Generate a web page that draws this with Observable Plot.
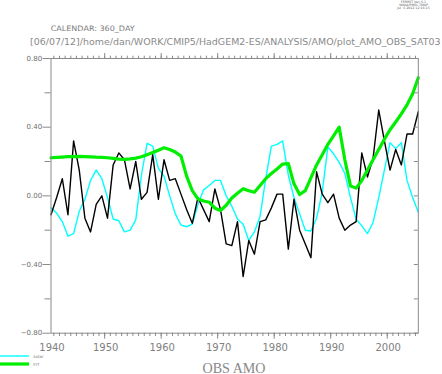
<!DOCTYPE html>
<html><head><meta charset="utf-8">
<script src="https://cdn.jsdelivr.net/npm/d3@7"></script>
<script src="https://cdn.jsdelivr.net/npm/@observablehq/plot@0.6"></script>
<style>html,body{margin:0;padding:0;background:#fff;} #chart svg{display:block}</style>
</head><body><div id="chart"></div>
<script>
// ---- data (annual values, plotted at mid-year) ----
const years = d3.range(1940, 2006);
const amo = [-0.11,-0.01,0.10,-0.11,0.32,0.15,-0.13,-0.21,-0.05,0.00,
  -0.13,0.18,0.25,0.21,0.04,0.20,-0.02,0.02,0.24,-0.02,
  0.21,0.09,0.10,0.01,-0.08,-0.16,-0.01,-0.08,-0.15,0.04,
  -0.08,-0.28,-0.29,-0.15,-0.47,-0.26,-0.34,-0.15,-0.14,-0.07,
  0.01,0.01,-0.31,-0.02,-0.20,-0.28,-0.36,0.14,0.01,-0.04,
  0.01,-0.13,-0.20,-0.17,-0.15,0.25,0.11,0.22,0.50,0.32,
  0.15,0.27,0.18,0.36,0.36,0.49];
const solar = [-0.07,-0.10,-0.15,-0.235,-0.22,-0.09,-0.02,0.09,0.15,0.10,
  -0.01,-0.135,-0.145,-0.21,-0.20,-0.14,0.12,0.305,0.29,0.16,
  0.115,0.00,-0.105,-0.17,-0.18,-0.165,-0.05,0.035,0.06,0.09,
  0.09,0.00,-0.06,-0.135,-0.165,-0.26,-0.21,-0.12,0.10,0.29,
  0.30,0.32,0.12,-0.01,-0.105,-0.20,-0.205,-0.13,0.02,0.285,
  0.245,0.195,0.13,-0.01,-0.135,-0.175,-0.22,-0.155,-0.01,0.15,
  0.31,0.275,0.31,0.09,-0.01,-0.095];
const fit = [0.222,0.224,0.226,0.228,0.229,0.230,0.229,0.227,0.225,0.224,
  0.222,0.218,0.214,0.213,0.215,0.220,0.228,0.240,0.252,0.266,
  0.280,0.270,0.255,0.232,0.115,0.030,-0.018,-0.030,-0.037,-0.072,
  -0.085,-0.055,-0.012,0.015,0.042,0.030,0.021,0.060,0.100,0.130,
  0.157,0.185,0.188,0.070,0.008,0.030,0.105,0.180,0.240,0.300,
  0.350,0.400,0.210,0.058,0.045,0.089,0.150,0.210,0.270,0.330,
  0.385,0.430,0.478,0.530,0.595,0.688];
const yMajor = [-0.8, -0.4, 0, 0.4, 0.8];
const yMinor = [-0.6, -0.2, 0.2, 0.6];
const xLabels = [1940, 1950, 1960, 1970, 1980, 1990, 2000];
const legendNames = ["solar", "FIT"];
const titleTop = "CALENDAR: 360_DAY";
const titlePath = "[06/07/12]/home/dan/WORK/CMIP5/HadGEM2-ES/ANALYSIS/AMO/plot_AMO_OBS_SAT03";
const xTitle = "OBS AMO";
const ferret = ["FERRET Ver. 6.1", "NOAA/PMEL TMAP", "Jul  6 2012 12:16:15"];

// ---- build ----
const W = 442, H = 374;
const mL = 50.5, mR = 24.2, mT = 58, mB = 41.3;
const xDomain = [1940.5, 2005.5];
const rows = years.map((y, i) => ({x: y + 0.5, amo: amo[i], solar: solar[i], fit: fit[i]}));
const yearTicks = d3.range(1941, 2006);
const decadeTicks = xLabels.filter(v => v > xDomain[0]);
const labelPos = xLabels.map(v => Math.max(v, xDomain[0]));
const yAll = [...yMajor, ...yMinor];
const axisColor = "#8a8a8a";
const textColor = "#808080";
const frameW = W - mL - mR;
const cyan = "#00ffff", green = "#00ee00";
const noText = () => "";

const chart = Plot.plot({
  width: W, height: H,
  marginLeft: mL, marginRight: mR, marginTop: mT, marginBottom: mB,
  style: {fontFamily: "DejaVu Sans, sans-serif", background: "#fff", color: textColor},
  x: {domain: xDomain, label: null},
  y: {domain: [-0.8, 0.8], label: null},
  marks: [
    Plot.lineY(rows, {x: "x", y: "solar", stroke: cyan, strokeWidth: 1.4}),
    Plot.lineY(rows, {x: "x", y: "amo", stroke: "#000", strokeWidth: 1.4}),
    Plot.lineY(rows, {x: "x", y: "fit", stroke: green, strokeWidth: 3.2}),
    Plot.frame({stroke: axisColor}),
    // left axis
    Plot.axisY({ticks: yMajor, tickSize: 8, tickFormat: noText, stroke: axisColor}),
    Plot.axisY({ticks: yMinor, tickSize: 6, tickFormat: noText, stroke: axisColor}),
    Plot.axisY({ticks: yMajor, tickSize: 0, tickPadding: 8.8, tickFormat: d3.format(".2f"), fill: "#6e6e6e", fontSize: 7}),
    // right inward ticks
    Plot.tickY(yAll, {y: d => d, stroke: axisColor, insetLeft: frameW - 4}),
    // top axis
    Plot.axisX({anchor: "top", ticks: yearTicks, tickSize: 3.3, tickFormat: noText, stroke: axisColor}),
    Plot.axisX({anchor: "top", ticks: decadeTicks, tickSize: 6, tickFormat: noText, stroke: axisColor}),
    // bottom axis
    Plot.axisX({anchor: "bottom", ticks: yearTicks, tickSize: 3.3, tickFormat: noText, stroke: axisColor}),
    Plot.axisX({anchor: "bottom", ticks: decadeTicks, tickSize: 6, tickFormat: noText, stroke: axisColor}),
    Plot.axisX({anchor: "bottom", ticks: labelPos, tickSize: 0, tickPadding: 10.8, dx: 1,
      tickFormat: d => String(Math.floor(d)), fill: textColor, fontSize: 10})
  ]
});
document.getElementById("chart").appendChild(chart);

// ---- annotations ----
const svg = d3.select(chart);
function addText(str, x, y, size, fill, opts = {}) {
  const t = svg.append("text").attr("x", x).attr("y", y)
    .attr("font-size", size).attr("fill", fill).attr("font-weight", "normal")
    .attr("text-anchor", opts.anchor || "start").text(str);
  if (opts.len) t.attr("textLength", opts.len).attr("lengthAdjust", "spacingAndGlyphs");
  if (opts.family) t.attr("font-family", opts.family);
  return t;
}
addText(titleTop, 50.7, 31, 7.5, "#7a7a7a", {len: 84});
addText(titlePath, 30, 45.3, 9.3, "#8a8a8a", {len: 410.5});
ferret.forEach((s, i) => addText(s, 413.5, 3.4 + i * 2.9, 3.2, "#555", {anchor: "middle"}));
addText(xTitle, 234, 372.5, 14, "#888", {anchor: "middle", len: 63, family: "Liberation Serif, serif"});
// legend
const legendColors = [cyan, green];
const legendWidths = [1.4, 3.2];
legendNames.forEach((n, i) => {
  const y = 356 + i * 8;
  svg.append("line").attr("x1", 0).attr("x2", 29).attr("y1", y).attr("y2", y)
    .attr("stroke", legendColors[i]).attr("stroke-width", legendWidths[i]);
  addText(n, 33.3, y + 1.6, 4.2, "#777");
});
</script>
</body></html>
